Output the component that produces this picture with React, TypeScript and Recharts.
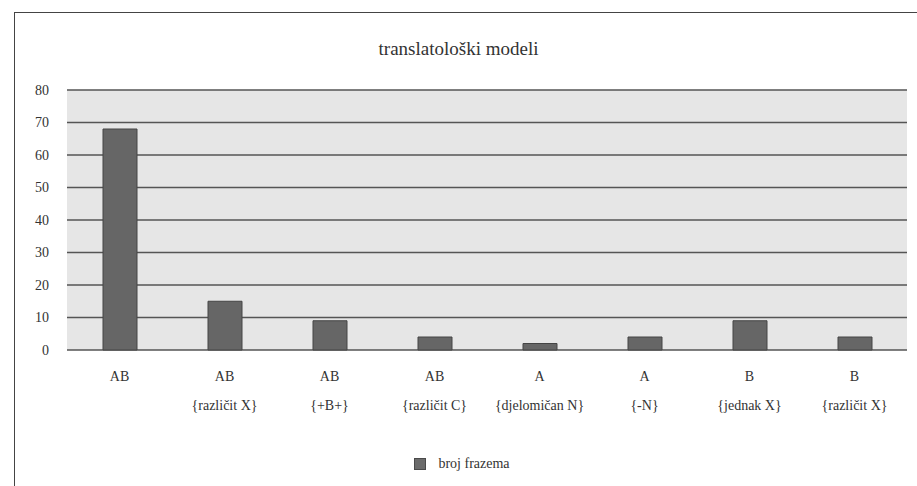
import React from "react";
import { BarChart, Bar, XAxis, YAxis, CartesianGrid, Legend } from "recharts";

const catTop = ["AB", "AB", "AB", "AB", "A", "A", "B", "B"];
const catBottom = ["", "{različit X}", "{+B+}", "{različit C}", "{djelomičan N}", "{-N}", "{jednak X}", "{različit X}"];
const brojFrazema = [68, 15, 9, 4, 2, 4, 9, 4];
const yTicks = [0, 10, 20, 30, 40, 50, 60, 70, 80];

const data = catTop.map((top, i) => ({
  name: `${top} ${catBottom[i]}`.trim(),
  top,
  bottom: catBottom[i],
  value: brojFrazema[i],
}));

const FONT = '"Liberation Serif", serif';

const CatTick = (props: any) => {
  const { x, y, payload } = props;
  const d = data[payload.index];
  return (
    <g transform={`translate(${x},${y})`}>
      <text x={0} y={0} dy={23} textAnchor="middle" fill="#333" fontSize={14} fontFamily={FONT}>
        {d.top}
      </text>
      <text x={0} y={0} dy={52} textAnchor="middle" fill="#333" fontSize={14} fontFamily={FONT}>
        {d.bottom}
      </text>
    </g>
  );
};

const LegendBox = () => (
  <div style={{ display: "flex", justifyContent: "center", alignItems: "center", fontFamily: FONT, fontSize: 14, color: "#333" }}>
    <span style={{ width: 10, height: 10, background: "#6b6b6b", border: "1px solid #4a4a4a", marginRight: 12, display: "inline-block" }} />
    broj frazema
  </div>
);

export default function App() {
  return (
    <div style={{ position: "absolute", left: 0, top: 0, width: 917, height: 486, background: "#fff", overflow: "hidden" }}>
      <div
        style={{
          position: "absolute",
          left: 14,
          top: 12,
          width: 920,
          height: 490,
          borderLeft: "1.5px solid #444",
          borderTop: "1.5px solid #444",
        }}
      />
      <div
        style={{
          position: "absolute",
          left: 0,
          top: 38,
          width: 917,
          textAlign: "center",
          fontFamily: FONT,
          fontSize: 19,
          color: "#333",
        }}
      >
        translatološki modeli
      </div>
      <div style={{ position: "absolute", left: 0, top: 0 }}>
        <BarChart width={917} height={486} data={data} margin={{ top: 90, right: 10, left: 17, bottom: 20 }}>
          <CartesianGrid vertical={false} horizontal stroke="#555" strokeWidth={1.5} fill="#e6e6e6" />
          <XAxis dataKey="name" tick={<CatTick />} axisLine={false} tickLine={false} interval={0} height={100} />
          <YAxis
            domain={[0, 80]}
            ticks={yTicks}
            width={50}
            axisLine={false}
            tickLine={false}
            tickMargin={12}
            tick={{ fill: "#333", fontSize: 14, fontFamily: FONT }}
          />
          <Legend verticalAlign="bottom" content={<LegendBox />} wrapperStyle={{ bottom: 14 }} />
          <Bar dataKey="value" fill="#666" stroke="#444" strokeWidth={1} barSize={34} isAnimationActive={false} />
        </BarChart>
      </div>
    </div>
  );
}
